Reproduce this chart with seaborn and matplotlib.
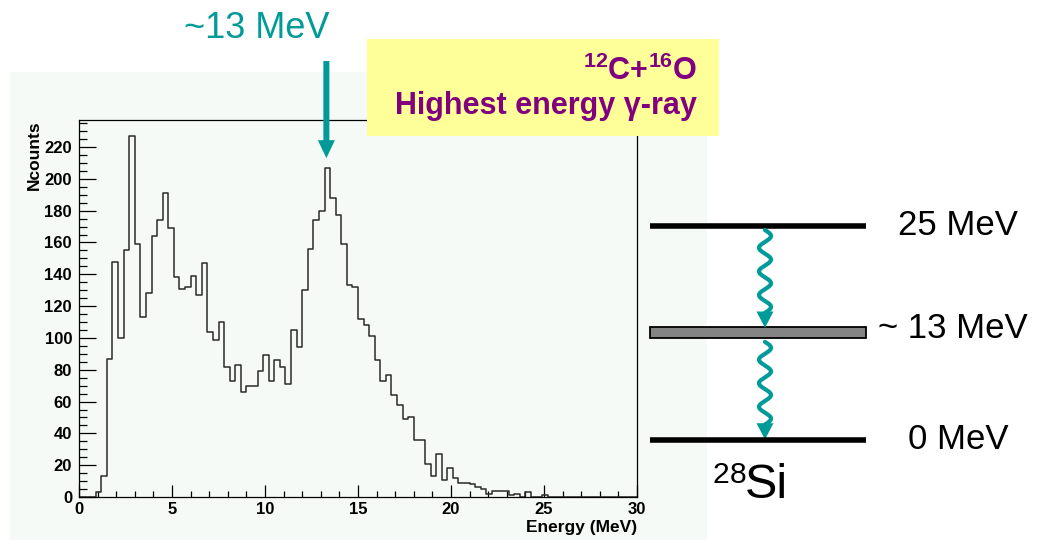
import numpy as np
import pandas as pd
import matplotlib
matplotlib.use("Agg")
import matplotlib.pyplot as plt
import seaborn as sns
from matplotlib.patches import Rectangle, FancyArrow, Polygon
from matplotlib.ticker import MultipleLocator

# ---- spectrum: gamma-ray energy histogram, 100 bins of 0.3 MeV ----
energy_min, energy_max, n_bins = 0.0, 30.0, 100
counts = [
    0, 0, 0, 3, 13, 87, 148, 100, 155, 227,
    159, 113, 128, 164, 174, 191, 169, 138, 131, 132,
    139, 127, 147, 104, 99, 110, 82, 73, 83, 66,
    70, 70, 79, 89, 73, 86, 82, 71, 105, 94,
    130, 156, 174, 180, 207, 188, 177, 159, 133, 132,
    112, 108, 101, 86, 73, 77, 64, 58, 49, 50,
    36, 36, 21, 13, 27, 11, 18, 12, 9, 9,
    8, 6, 5, 2, 4, 4, 4, 1, 2, 0,
    3, 0, 0, 1, 0, 0, 0, 0, 0, 0,
    0, 0, 0, 0, 0, 0, 0, 0, 0, 0,
]
x_ticks = [0, 5, 10, 15, 20, 25, 30]
y_ticks = [0, 20, 40, 60, 80, 100, 120, 140, 160, 180, 200, 220]
y_max = 237
x_title = "Energy (MeV)"
y_title = "Ncounts"

# ---- marked peak ----
peak_energy = 13.3
peak_arrow_tip = 213
peak_label = "~13 MeV"

# ---- note box ----
note_reaction = r"$^{\mathbf{12}}$C+$^{\mathbf{16}}$O"
note_text = "Highest energy \u03b3-ray"

# ---- level scheme of the compound nucleus (MeV) ----
level_energies = [25, 0]
level_names = ["25 MeV", "0 MeV"]
broad_state = 13
broad_state_name = "~ 13 MeV"
broad_state_range = (11.9, 13.2)
cascade = [(24.47, 13.05), (11.4, 0.0)]
nucleus_mass, nucleus_symbol = "28", "Si"

W, H = 1038, 540
TEAL = "#009b98"
PURPLE = "#800080"
PANEL = "#f5faf7"

sns.set_style("white")
plt.rcParams["font.family"] = ["Liberation Sans", "DejaVu Sans"]
plt.rcParams["mathtext.fontset"] = "custom"
plt.rcParams["mathtext.rm"] = "Liberation Sans"
plt.rcParams["mathtext.bf"] = "Liberation Sans:bold"
for key in ("text.color", "axes.labelcolor", "xtick.color", "ytick.color"):
    plt.rcParams[key] = "black"

fig = plt.figure(figsize=(W / 100, H / 100), dpi=100)
fig.patch.set_facecolor("white")

# light panel behind the histogram
fig.patches.append(Rectangle((10 / W, 0), 697 / W, (H - 72) / H,
                             transform=fig.transFigure, facecolor=PANEL,
                             edgecolor="none", zorder=-5))

# ---- histogram ----
ax = fig.add_axes([79 / W, (H - 497) / H, 558 / W, 377 / H])
ax.set_facecolor("none")
bin_width = (energy_max - energy_min) / n_bins
centers = energy_min + bin_width * (np.arange(n_bins) + 0.5)
spec = pd.DataFrame({"energy": centers, "counts": counts})
sns.histplot(data=spec, x="energy", weights="counts", binwidth=bin_width,
             binrange=(energy_min, energy_max), element="step",
             fill=False, color="#2a2a2a", linewidth=1.1, ax=ax)
ax.set_xlim(energy_min, energy_max)
ax.set_ylim(0, y_max)
ax.set_xticks(x_ticks)
ax.set_yticks(y_ticks)
ax.xaxis.set_minor_locator(MultipleLocator(1))
ax.yaxis.set_minor_locator(MultipleLocator(5))
for s in ax.spines.values():
    s.set_visible(True)
    s.set_color("black")
    s.set_linewidth(0.9)
ax.tick_params(axis="x", which="major", direction="in", length=8.5, width=0.9,
               pad=3.5, labelsize=12, top=False, bottom=True)
ax.tick_params(axis="x", which="minor", direction="in", length=4.3, width=0.9,
               top=False, bottom=True)
ax.tick_params(axis="y", which="major", direction="in", length=12.5, width=0.9,
               pad=5, labelsize=12, right=False, left=True)
ax.tick_params(axis="y", which="minor", direction="in", length=5.8, width=0.9,
               right=False, left=True)
for lab in ax.get_xticklabels() + ax.get_yticklabels():
    lab.set_fontweight("bold")
ax.set_xlabel(x_title, loc="right", fontweight="bold", fontsize=12.5, labelpad=2)
ax.set_ylabel(y_title, loc="top", fontweight="bold", fontsize=12.5, labelpad=2)

# ---- overlay in pixel units (y downward) for callouts ----
ov = fig.add_axes([0, 0, 1, 1], zorder=5)
ov.set_xlim(0, W)
ov.set_ylim(H, 0)
ov.axis("off")
ov.patch.set_alpha(0)

fig.canvas.draw()
tip_disp = ax.transData.transform((peak_energy, peak_arrow_tip))
tip_x, tip_y = ov.transData.inverted().transform(tip_disp)
ov.add_patch(FancyArrow(tip_x, 61, 0, tip_y - 61, width=6, head_width=17,
                        head_length=18, length_includes_head=True,
                        color=TEAL, linewidth=0))
ov.text(tip_x + 3, 38, peak_label, color=TEAL, fontsize=26,
        ha="right", va="baseline")

ov.add_patch(Rectangle((367, 39), 352, 97, facecolor="#ffff99",
                       edgecolor="none"))
ov.text(697, 80, note_reaction, color=PURPLE, fontsize=22, fontweight="bold",
        ha="right", va="baseline")
ov.text(697, 114, note_text, color=PURPLE, fontsize=22, fontweight="bold",
        ha="right", va="baseline")

# ---- level scheme, vertical axis in MeV ----
px_per_mev = 8.56
y0_px = 439.5
lv = fig.add_axes([640 / W, (H - 520) / H, (W - 640) / W, 320 / H], zorder=3)
lv.set_xlim(640, W)
lv.set_ylim((y0_px - 520) / px_per_mev, (y0_px - 200) / px_per_mev)
lv.axis("off")
lv.patch.set_alpha(0)

line_x0, line_x1, label_x = 650, 866, 958
lv.hlines(level_energies, line_x0, line_x1, color="black", linewidth=4,
          capstyle="butt")
for e, name in zip(level_energies, level_names):
    lv.text(label_x, e, name, fontsize=25, ha="center", va="center")
lv.add_patch(Rectangle((line_x0, broad_state_range[0]), line_x1 - line_x0,
                       broad_state_range[1] - broad_state_range[0],
                       facecolor="#848484", edgecolor="black", linewidth=1.3))
lv.text(label_x - 5, broad_state, broad_state_name, fontsize=25,
        ha="center", va="center")

# wavy gamma-ray arrows of the cascade
xc = 765
head_len = 15 / px_per_mev
for top, bottom in cascade:
    base = bottom + head_len
    length = top - base
    period = 2 * length / 7
    y = np.linspace(top, base, 300)
    x = xc + 6.0 * np.sin(2 * np.pi * (top - y) / period)
    lv.plot(x, y, color=TEAL, linewidth=3.0, solid_capstyle="round")
    lv.add_patch(Polygon([[xc - 8.5, base + 0.15], [xc + 8.5, base + 0.15],
                          [xc, bottom]], closed=True, color=TEAL,
                         linewidth=0))

lv.text(747, -6.83, "$^{" + nucleus_mass + "}$", fontsize=31, ha="right",
        va="baseline")
lv.text(745, -6.83, nucleus_symbol, fontsize=35, ha="left", va="baseline")

fig.savefig("out.png", dpi=100)
